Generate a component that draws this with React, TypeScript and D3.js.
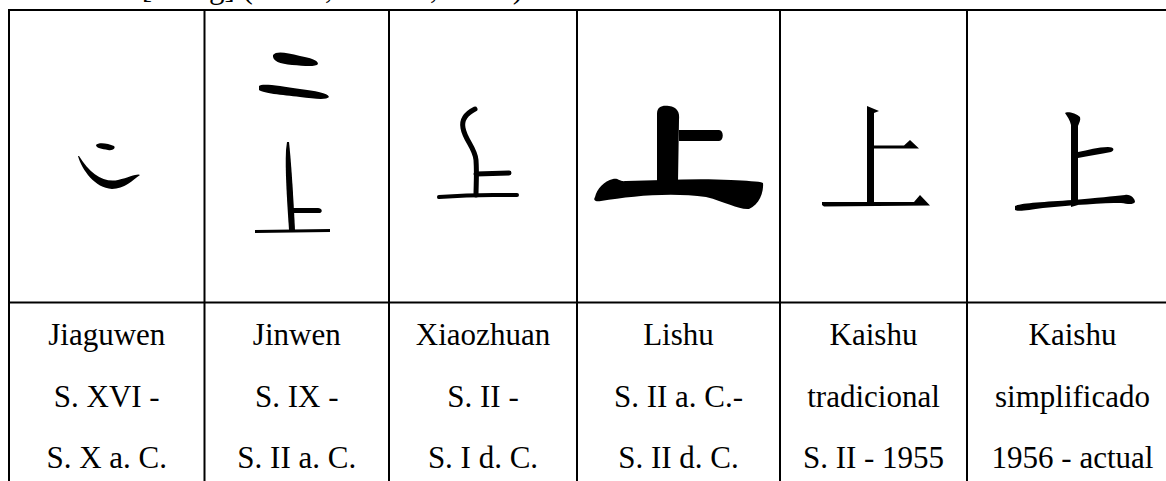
import React from 'react';
import * as d3 from 'd3';

// script styles, one per column
const scriptNames = ['Jiaguwen', 'Jinwen', 'Xiaozhuan', 'Lishu', 'Kaishu', 'Kaishu'];
const periodFrom = ['S. XVI -', 'S. IX -', 'S. II -', 'S. II a. C.-', 'tradicional', 'simplificado'];
const periodTo = ['S. X a. C.', 'S. II a. C.', 'S. I d. C.', 'S. II d. C.', 'S. II - 1955', '1956 - actual'];
const caption = '3. 上 [shàng] (arriba, encima, sobre)';

// glyph outlines, drawn relative to the cell centre (x) and page top (y)
const glyphs: { fill?: string[]; stroke?: [string, number][] }[] = [
  {
    fill: [
      'M-11,145 C-9,142 1,143 7,146 C9,148 6,151 1,150 C-5,149 -11,148 -11,145 Z',
      'M-29,156 C-25,170 -12,188 5,189 C17,189 26,180 33,175 C31,173 23,177 11,180 C-3,183 -17,174 -28,156 Z',
    ],
  },
  {
    fill: [
      'M-24,55 C-21,51 -12,52 3,56 C13,58 21,60 21,64 C19,67 8,66 -5,65 C-17,64 -25,61 -24,55 Z',
      'M-38,86 C-35,83 -17,86 3,89 C18,91 31,93 32,97 C30,100 18,99 3,97 C-15,95 -35,93 -38,90 Z',
      'M-10,142 L-8,142 C-6,160 -4,190 -2,230 L-8,230 C-10,200 -12,170 -11,150 Z',
      'M-4,208 L21,208 C25,208 26,212 23,213 L-4,213 Z',
      'M-42,230 L33,229 L33,232 L-42,233 Z',
    ],
  },
  {
    stroke: [
      ['M-8,109 C-14,112 -22,118 -20,128 C-18,140 -8,148 -7,160 C-6,175 -7,185 -7,195', 5],
      ['M-7,174 L26,173', 5],
      ['M-44,197 C-30,196 -10,195 10,195 L34,195', 4],
    ],
  },
  {
    fill: [
      'M-22,114 C-22,106 -16,105 -10,106 C-2,107 1,112 0,120 L-1,182 L-22,182 Z',
      'M0,130 L40,130 C45,130 45,141 40,141 L0,141 Z',
      'M-84,197 C-82,189 -75,181 -66,179 C-60,178 -60,182 -53,181 C-18,180 22,178 52,180 C67,181 80,181 84,183 C85,192 80,205 70,209 C60,210 47,202 27,197 C-8,192 -48,196 -78,201 C-84,202 -86,200 -84,197 Z',
    ],
  },
  {
    fill: [
      'M-7,106 L5,111 L0,113 L0,202 L-7,202 Z',
      'M0,145.5 L30,145.5 L36,140 L45,148.5 L0,148.5 Z',
      'M-52,202 L40,202 L46,195 L56,205.5 L-50,206.5 L-52,205 Z',
    ],
  },
  {
    fill: [
      'M-8,113 C-6,111 3,113 7,117 C8,120 6,123 5,126 L5,205 L-2,207 L-2,125 C-3,120 -6,116 -8,113 Z',
      'M5,152 C15,150 25,147 35,147 C41,147 42,150 38,152 C28,154 15,156 5,158 Z',
      'M-58,206 C-52,203 -30,202 0,200 C25,198 40,196 52,195 C58,194 62,199 62,202 C60,205 55,204 48,203 C30,203 0,205 -30,208 C-45,210 -54,212 -58,210 Z',
    ],
  },
];

const W = 1166;
const H = 481;
const colEdges = [9, 204.5, 389, 577, 780, 967, 1178];
const rowLines = [10, 302.5, 495];
const textRows = [scriptNames, periodFrom, periodTo];
const baseline = d3.scaleLinear().domain([0, 2]).range([345, 468]);
const font = '"Liberation Serif", "Times New Roman", serif';

export default function App() {
  const cols = d3.pairs(colEdges).map(([a, b]) => (a + b) / 2);
  return (
    <svg width={W} height={H} style={{ position: 'absolute', left: 0, top: 0, background: '#fff' }}>
      <rect width={W} height={H} fill="#fff" />
      {/* caption above the table, mostly cut off by the top edge */}
      <text x={72} y={-2} fontFamily={font} fontSize={31} fill="#000">
        {caption}
      </text>
      {rowLines.map((y, i) => (
        <line key={'h' + i} x1={colEdges[0] - 1} x2={colEdges[colEdges.length - 1]} y1={y} y2={y} stroke="#000" strokeWidth={2} />
      ))}
      {colEdges.map((x, i) => (
        <line key={'v' + i} x1={x} x2={x} y1={rowLines[0]} y2={rowLines[2]} stroke="#000" strokeWidth={2} />
      ))}
      {glyphs.map((g, i) => (
        <g key={'g' + i} transform={`translate(${Math.round(cols[i])},0)`}>
          {(g.fill || []).map((d, j) => (
            <path key={j} d={d} fill="#000" />
          ))}
          {(g.stroke || []).map(([d, w], j) => (
            <path key={'s' + j} d={d} fill="none" stroke="#000" strokeWidth={w} strokeLinecap="round" strokeLinejoin="round" />
          ))}
        </g>
      ))}
      {textRows.map((row, r) =>
        row.map((t, i) => (
          <text
            key={r + '-' + i}
            x={cols[i]}
            y={baseline(r)}
            textAnchor="middle"
            fontFamily={font}
            fontSize={31}
            fill="#000"
          >
            {t}
          </text>
        ))
      )}
    </svg>
  );
}
